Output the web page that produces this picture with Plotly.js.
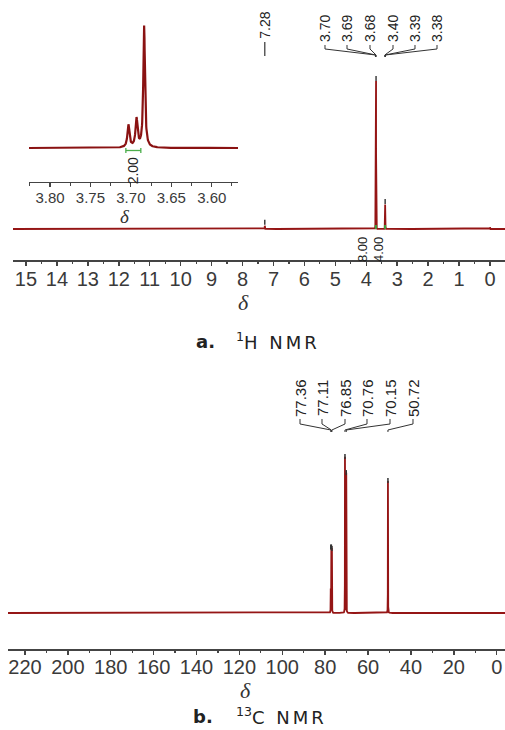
<!DOCTYPE html>
<html><head><meta charset="utf-8">
<script src="https://cdn.plot.ly/plotly-3.0.1.min.js"></script>
<style>html,body{margin:0;padding:0;background:#fff}</style>
</head><body><div id="chart" style="width:505px;height:730px"></div>
<script>
// ---------------- DATA ----------------
// 1H NMR peaks (ppm, relative height, half width)
const hPeakPpm    = [7.28, 3.703, 3.693, 3.6836, 3.40, 3.39, 3.38, 0.00];
const hPeakHeight = [0.022, 0.185, 0.235, 1.0, 0.08, 0.163, 0.08, 0.012];
const hPeakWidth  = [0.002, 0.0015, 0.0015, 0.0012, 0.0015, 0.0015, 0.0015, 0.002];
const hLabelText  = ['3.70', '3.69', '3.68', '3.40', '3.39', '3.38'];
const hLabelPpm   = [3.703, 3.693, 3.6836, 3.40, 3.39, 3.38];
const hSingleText = '7.28';
const hSinglePpm  = 7.28;
const hMarkedPpm  = [7.28, 3.6836, 3.39];
const hMarkedH    = [0.022, 1.0, 0.163];
const hIntegralText = ['8.00', '4.00'];
const hIntegralPpm  = [3.69, 3.39];
const insetIntegralText = '2.00';
const insetIntegralFrom = 3.7062;
const insetIntegralTo   = 3.6877;
const hTicks = [15, 14, 13, 12, 11, 10, 9, 8, 7, 6, 5, 4, 3, 2, 1, 0];
const insetTicks = [3.80, 3.75, 3.70, 3.65, 3.60];
const insetTickText = ['3.80', '3.75', '3.70', '3.65', '3.60'];
// 13C NMR peaks
const cPeakPpm    = [77.36, 77.11, 76.85, 70.76, 70.15, 50.72];
const cPeakHeight = [0.42, 0.42, 0.41, 1.0, 0.897, 0.846];
const cPeakWidth  = [0.03, 0.03, 0.03, 0.03, 0.03, 0.03];
const cLabelText  = ['77.36', '77.11', '76.85', '70.76', '70.15', '50.72'];
const cTicks = [220, 200, 180, 160, 140, 120, 100, 80, 60, 40, 20, 0];

// ---------------- LAYOUT GEOMETRY (px) ----------------
const W = 505, H = 730;
const px = x => x / W;
const py = y => 1 - y / H;

const hGeo = {x0: 13, x1: 505, axisY: 260, topY: 50, baseY: 229, scale: 147, range: [15.42, -0.485]};
const iGeo = {x0: 29, x1: 238, axisY: 182, topY: 15, baseY: 148, scale: 121.6, range: [3.826, 3.5675]};
const cGeo = {x0: 8, x1: 505, axisY: 649, topY: 430, baseY: 613, scale: 156, range: [227.9, -3.87]};
function yRange(g) {
  const below = (g.axisY - g.baseY) / g.scale;
  const total = (g.axisY - g.topY) / g.scale;
  return [-below, total - below];
}
function ppmToPx(g, v) { return g.x0 + (g.range[0] - v) / (g.range[0] - g.range[1]) * (g.x1 - g.x0); }
function valToPy(g, v) { return g.baseY - v * g.scale; }

function buildSpectrum(pp, hh, ww, hi, lo, step) {
  const xs = [];
  for (let x = hi; x >= lo; x -= step) xs.push(x);
  xs.push(lo);
  pp.forEach((p, i) => { const w = ww[i]; for (let k = -80; k <= 80; k++) xs.push(p + k * w / 6); });
  const f = xs.filter(x => x <= hi && x >= lo).sort((a, b) => b - a);
  const ys = f.map(x => pp.reduce((s, p, i) => s + hh[i] * ww[i] * ww[i] / (ww[i] * ww[i] + (x - p) * (x - p)), 0));
  return {x: f, y: ys};
}

const specH = buildSpectrum(hPeakPpm, hPeakHeight, hPeakWidth, hGeo.range[0], hGeo.range[1], 0.02);
const specI = buildSpectrum(hPeakPpm, hPeakHeight, hPeakWidth, iGeo.range[0], iGeo.range[1], 0.0005);
const specC = buildSpectrum(cPeakPpm, cPeakHeight, cPeakWidth, cGeo.range[0], cGeo.range[1], 0.2);

const red = '#951515';
const traces = [
  {x: specH.x, y: specH.y, xaxis: 'x', yaxis: 'y', type: 'scatter', mode: 'lines', line: {color: red, width: 1.8}, hoverinfo: 'skip'},
  {x: specI.x, y: specI.y, xaxis: 'x2', yaxis: 'y2', type: 'scatter', mode: 'lines', line: {color: '#8a1212', width: 2.2}, hoverinfo: 'skip'},
  {x: specC.x, y: specC.y, xaxis: 'x3', yaxis: 'y3', type: 'scatter', mode: 'lines', line: {color: red, width: 1.8}, hoverinfo: 'skip'}
];

const tickFont = {family: 'Liberation Sans, Arial, sans-serif', size: 20, color: '#3a3a3a'};
function xAx(g, extra) {
  return Object.assign({
    domain: [px(g.x0), px(g.x1)], range: g.range, autorange: false,
    showline: true, linecolor: '#444', linewidth: 1.5, mirror: false,
    ticks: 'outside', ticklen: 4, tickwidth: 1.5, tickcolor: '#444',
    showgrid: false, zeroline: false, fixedrange: true, tickfont: tickFont,
    ticklabelstandoff: -4
  }, extra);
}
function yAx(g, anchor) {
  return {domain: [py(g.axisY), py(g.topY)], range: yRange(g), visible: false, fixedrange: true, anchor: anchor, showgrid: false, zeroline: false};
}

const layout = {
  width: W, height: H, margin: {l: 0, r: 0, t: 0, b: 0},
  paper_bgcolor: '#fff', plot_bgcolor: 'rgba(0,0,0,0)', showlegend: false,
  xaxis: xAx(hGeo, {anchor: 'y', tickmode: 'array', tickvals: hTicks, ticktext: hTicks.map(String),
    minor: {dtick: 0.5, tick0: 0, ticks: 'outside', ticklen: 2.5, tickwidth: 1.2, tickcolor: '#444'}}),
  yaxis: yAx(hGeo, 'x'),
  xaxis2: xAx(iGeo, {anchor: 'y2', tickmode: 'array', tickvals: insetTicks, ticktext: insetTickText,
    tickfont: Object.assign({}, tickFont, {size: 15}), ticklabelstandoff: -2, tickwidth: 1.2, linewidth: 1.3,
    minor: {dtick: 0.025, tick0: 3.6, ticks: 'outside', ticklen: 2.5, tickwidth: 1, tickcolor: '#444'}}),
  yaxis2: yAx(iGeo, 'x2'),
  xaxis3: xAx(cGeo, {anchor: 'y3', tickmode: 'array', tickvals: cTicks, ticktext: cTicks.map(String), ticklabelstandoff: -5,
    minor: {dtick: 10, tick0: 0, ticks: 'outside', ticklen: 2.5, tickwidth: 1.2, tickcolor: '#444'}}),
  yaxis3: yAx(cGeo, 'x3'),
  annotations: [], shapes: []
};

const A = layout.annotations, S = layout.shapes;
const labFont = {family: 'Liberation Sans, Arial, sans-serif', size: 14, color: '#222'};
function rotLabel(text, x, y, size) {
  A.push({text: text, x: px(x), y: py(y), xref: 'paper', yref: 'paper', xanchor: 'center', yanchor: 'middle',
    textangle: -90, showarrow: false, font: Object.assign({}, labFont, {size: size})});
}
function pathShape(pts, color, width) {
  const d = pts.map((p, i) => (i ? 'L' : 'M') + px(p[0]).toFixed(5) + ',' + py(p[1]).toFixed(5)).join(' ');
  S.push({type: 'path', path: d, xref: 'paper', yref: 'paper', line: {color: color, width: width}});
}

// 1H peak labels with connectors
const hLabelX = [325, 347, 370, 393, 415, 437];
hLabelText.forEach((t, i) => {
  rotLabel(t, hLabelX[i], 29, 14);
  const xp = ppmToPx(hGeo, hLabelPpm[i]);
  pathShape([[hLabelX[i], 45], [hLabelX[i], 49], [xp, 55], [xp, 57]], '#333', 1);
});
rotLabel(hSingleText, ppmToPx(hGeo, hSinglePpm), 25, 14);
pathShape([[ppmToPx(hGeo, hSinglePpm), 42], [ppmToPx(hGeo, hSinglePpm), 56]], '#333', 1.2);

// peak-pick markers
hMarkedPpm.forEach((p, i) => {
  const x = ppmToPx(hGeo, p), y = valToPy(hGeo, hMarkedH[i]);
  pathShape([[x, y - 1], [x, y - 6]], '#222', 1.3);
});
cPeakPpm.forEach((p, i) => {
  const x = ppmToPx(cGeo, p), y = valToPy(cGeo, cPeakHeight[i]);
  pathShape([[x, y + 2], [x, y - 3]], '#333', 1.5);
});

// integrals (main)
const hIntX = [362, 378];
hIntegralText.forEach((t, i) => {
  rotLabel(t, hIntX[i], 250, 13);
  const x = ppmToPx(hGeo, hIntegralPpm[i]);
  pathShape([[x, hGeo.baseY], [x, hGeo.baseY - 4]], '#3aa53a', 2);
});
// integral (inset)
const ia = ppmToPx(iGeo, insetIntegralFrom), ib = ppmToPx(iGeo, insetIntegralTo);
pathShape([[ia, 150.5], [ib, 150.5]], '#4cae4c', 1.3);
pathShape([[ia, 148], [ia, 153]], '#4cae4c', 1.3);
pathShape([[ib, 148], [ib, 153]], '#4cae4c', 1.3);
rotLabel(insetIntegralText, (ia + ib) / 2, 171, 14);

// 13C labels with connectors
const cLabelX = [300, 322, 345, 367, 390, 413];
cLabelText.forEach((t, i) => {
  rotLabel(t, cLabelX[i], 398, 15);
  const xp = ppmToPx(cGeo, cPeakPpm[i]);
  pathShape([[cLabelX[i], 419], [cLabelX[i], 424], [xp, 430], [xp, 432]], '#333', 1);
});

// delta axis labels
const deltaFont = s => ({family: 'Liberation Serif, Times New Roman, serif', size: s, color: '#333'});
A.push({text: '<i>δ</i>', x: px(243), y: py(302), xref: 'paper', yref: 'paper', showarrow: false, xanchor: 'center', yanchor: 'middle', font: deltaFont(22)});
A.push({text: '<i>δ</i>', x: px(125), y: py(216), xref: 'paper', yref: 'paper', showarrow: false, xanchor: 'center', yanchor: 'middle', font: deltaFont(19)});
A.push({text: '<i>δ</i>', x: px(245), y: py(690), xref: 'paper', yref: 'paper', showarrow: false, xanchor: 'center', yanchor: 'middle', font: deltaFont(22)});

// captions
const capFont = {family: 'DejaVu Sans, Noto Sans, sans-serif', size: 18, color: '#222'};
A.push({text: '<b>a.</b>', x: px(205), y: py(341), xref: 'paper', yref: 'paper', showarrow: false, xanchor: 'center', yanchor: 'middle', font: capFont});
A.push({text: '<sup>1</sup><span style="letter-spacing:3px">H NMR</span>', x: px(234), y: py(341), xref: 'paper', yref: 'paper', showarrow: false, xanchor: 'left', yanchor: 'middle', font: capFont});
A.push({text: '<b>b.</b>', x: px(203), y: py(716), xref: 'paper', yref: 'paper', showarrow: false, xanchor: 'center', yanchor: 'middle', font: capFont});
A.push({text: '<sup>13</sup><span style="letter-spacing:3px">C NMR</span>', x: px(234), y: py(716), xref: 'paper', yref: 'paper', showarrow: false, xanchor: 'left', yanchor: 'middle', font: capFont});

Plotly.newPlot('chart', traces, layout, {staticPlot: true, displayModeBar: false});
</script></body></html>
